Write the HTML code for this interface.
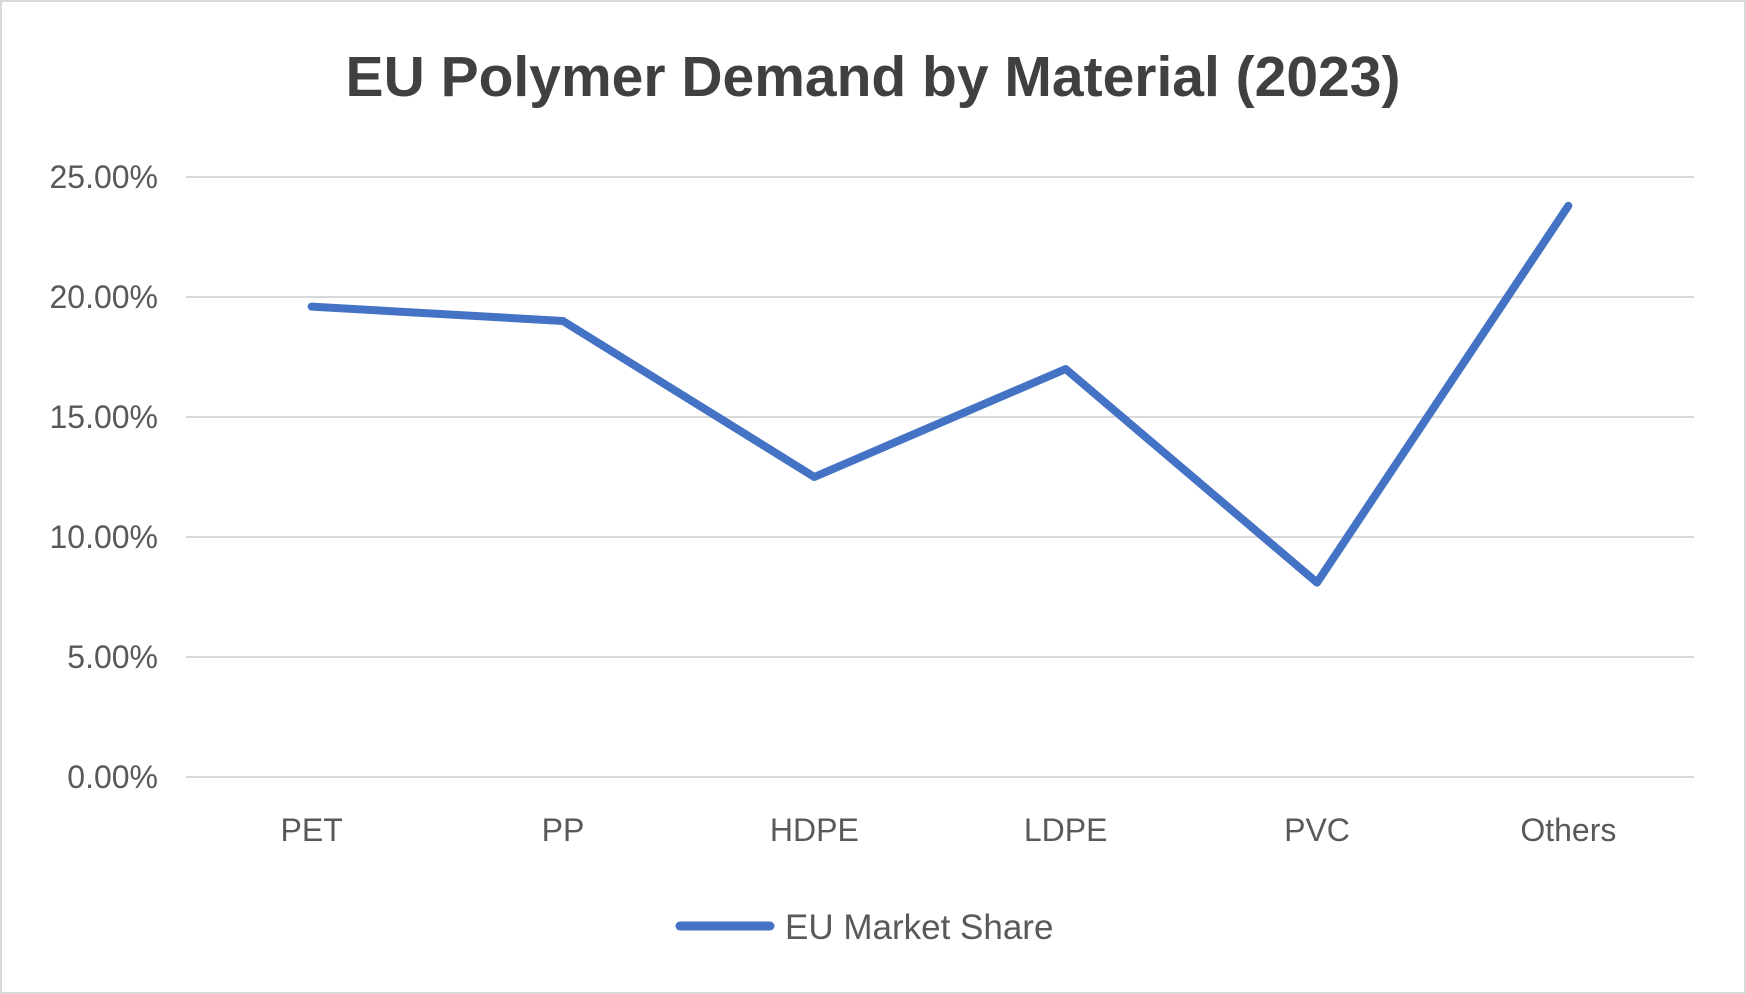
<!DOCTYPE html>
<html><head><meta charset="utf-8"><style>
html,body{margin:0;padding:0;background:#fff}
svg{display:block;font-family:"Liberation Sans",sans-serif}
</style></head><body>
<svg id="chart" width="1746" height="994">
<rect x="1" y="1" width="1744" height="992" fill="#fff" stroke="#d9d9d9" stroke-width="2"/>
<text x="873" y="96" text-anchor="middle" font-size="57" font-weight="bold" fill="#404040">EU Polymer Demand by Material (2023)</text>
<g id="grid"></g><g id="ylabels"></g><g id="xlabels"></g><g id="series"></g>
<g>
<line x1="680" y1="926" x2="770" y2="926" stroke="#4472c4" stroke-width="9" stroke-linecap="round"/>
<text x="785" y="939" font-size="35" fill="#595959">EU Market Share</text>
</g>
</svg>
<script>
const categories=["PET","PP","HDPE","LDPE","PVC","Others"];
const values=[19.6,19.0,12.5,17.0,8.1,23.8];
const yTicks=[0,5,10,15,20,25];
const yTickLabels=["0.00%","5.00%","10.00%","15.00%","20.00%","25.00%"];
const NS="http://www.w3.org/2000/svg";
const L=186,R=1694,T=177,B=777,yMax=25;
const xs=i=>L+(R-L)/categories.length*(i+0.5);
const ys=v=>B-(B-T)*v/yMax;
const g=document.getElementById('grid'),yl=document.getElementById('ylabels'),xl=document.getElementById('xlabels'),s=document.getElementById('series');
yTicks.forEach((t,i)=>{
const ln=document.createElementNS(NS,'line');
ln.setAttribute('x1',L);ln.setAttribute('x2',R);ln.setAttribute('y1',ys(t));ln.setAttribute('y2',ys(t));
ln.setAttribute('stroke','#d9d9d9');ln.setAttribute('stroke-width','2');


g.appendChild(ln);
const tx=document.createElementNS(NS,'text');
tx.setAttribute('x',158);tx.setAttribute('y',ys(t)+11);tx.setAttribute('text-anchor','end');
tx.setAttribute('font-size','32');tx.setAttribute('fill','#595959');tx.textContent=yTickLabels[i];


yl.appendChild(tx);
});
categories.forEach((c,i)=>{
const tx=document.createElementNS(NS,'text');
tx.setAttribute('x',xs(i));tx.setAttribute('y',841);tx.setAttribute('text-anchor','middle');
tx.setAttribute('font-size','32');tx.setAttribute('fill','#595959');tx.textContent=c;


xl.appendChild(tx);
});
const p=document.createElementNS(NS,'polyline');
p.setAttribute('points',values.map((v,i)=>xs(i)+','+ys(v)).join(' '));
p.setAttribute('fill','none');p.setAttribute('stroke','#4472c4');p.setAttribute('stroke-width','8');
p.setAttribute('stroke-linecap','round');p.setAttribute('stroke-linejoin','round');


s.appendChild(p);
</script>
</body></html>
